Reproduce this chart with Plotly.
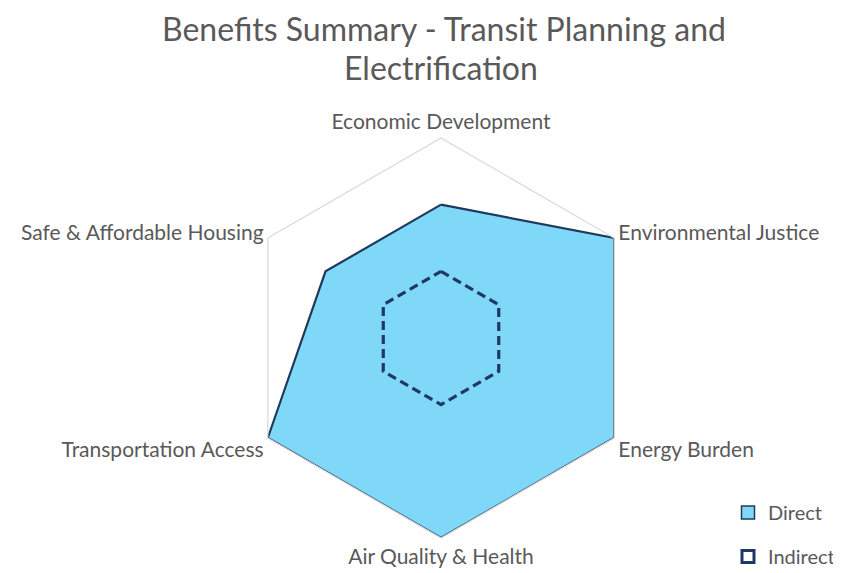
import plotly.graph_objects as go

categories = ["Economic Development", "Environmental Justice", "Energy Burden",
              "Air Quality & Health", "Transportation Access", "Safe & Affordable Housing"]
direct = [2, 3, 3, 3, 3, 2]
indirect = [1, 1, 1, 1, 1, 1]
title_lines = ["Benefits Summary - Transit Planning and", "Electrification"]

# page has an 8px body margin; size the figure so it fits the 841x573 window
OFF = 8
W, H = 841 - OFF, 573 - OFF


def px(x):
    return (x - OFF) / W


def py(y):
    return 1 - (y - OFF) / H


cx, cy, R = 441, 338, 200

FILL = "#80D8F8"
NAVY = "#1F3864"

fig = go.Figure()
fig.add_trace(go.Scatterpolar(
    r=direct + direct[:1], theta=categories + categories[:1], name="Direct",
    mode="lines", fill="toself", fillcolor=FILL,
    line=dict(color="#1F3B5C", width=2.2), showlegend=False,
))
fig.add_trace(go.Scatterpolar(
    r=indirect + indirect[:1], theta=categories + categories[:1], name="Indirect",
    mode="lines", line=dict(color=NAVY, width=3.2, dash="9px,5px"), showlegend=False,
))
# legend entries
fig.add_trace(go.Scatterpolar(
    r=[None], theta=[categories[0]], name="Direct", mode="markers", legendgroup="d",
    marker=dict(symbol="square", size=13, color=FILL, line=dict(color="#1F3B5C", width=1.5)),
))
fig.add_trace(go.Scatterpolar(
    r=[None], theta=[categories[0]], name="Indirect", mode="markers", legendgroup="i",
    marker=dict(symbol="square-open", size=12, color=NAVY, line=dict(width=3)),
))

fig.update_layout(
    width=W, height=H,
    margin=dict(l=0, r=0, t=0, b=0, autoexpand=False),
    paper_bgcolor="white", plot_bgcolor="white",
    font=dict(family="Lato, Open Sans, sans-serif", color="#595959", size=21),
    annotations=[
        dict(text=title_lines[0], x=px(444), y=py(28), xref="paper", yref="paper",
             xanchor="center", yanchor="middle", showarrow=False,
             font=dict(size=32, color="#595959")),
        dict(text=title_lines[1], x=px(441), y=py(68), xref="paper", yref="paper",
             xanchor="center", yanchor="middle", showarrow=False,
             font=dict(size=32, color="#595959")),
    ],
    polar=dict(
        domain=dict(x=[px(cx - R), px(cx + R)], y=[py(cy + R), py(cy - R)]),
        gridshape="linear",
        bgcolor="white",
        radialaxis=dict(range=[0, 3], dtick=1, showticklabels=False, ticks="",
                        showline=False, gridcolor="#D9D9D9", gridwidth=1.2),
        angularaxis=dict(rotation=90, direction="clockwise", showgrid=False,
                         showline=True, linecolor="#D9D9D9", linewidth=1.2, ticks="",
                         tickfont=dict(size=21, color="#595959")),
    ),
    legend=dict(x=px(728), y=py(493), xanchor="left", yanchor="top",
                font=dict(size=20, color="#595959"), tracegroupgap=15,
                itemwidth=30, bgcolor="rgba(0,0,0,0)"),
    showlegend=True,
)

fig.write_html("out.html")
